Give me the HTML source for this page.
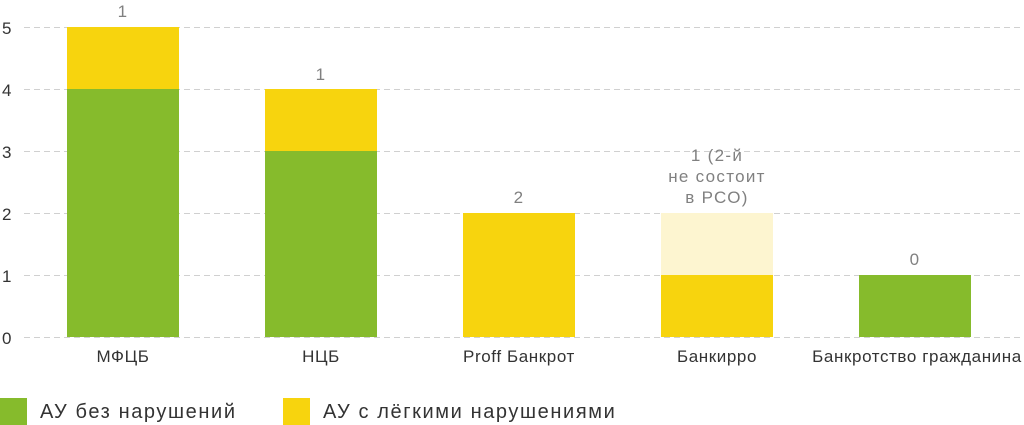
<!DOCTYPE html><html><head><meta charset="utf-8"><style>body{margin:0;background:#fff}svg{display:block}text{font-family:"Liberation Sans",sans-serif}</style></head><body>
<svg width="1024" height="425" viewBox="0 0 1024 425">
<g stroke="#d0d0d0" stroke-width="1" stroke-dasharray="6,4">
<line x1="24" y1="27.5" x2="1024" y2="27.5"/><line x1="24" y1="89.5" x2="1024" y2="89.5"/><line x1="24" y1="151.5" x2="1024" y2="151.5"/><line x1="24" y1="213.5" x2="1024" y2="213.5"/><line x1="24" y1="275.5" x2="1024" y2="275.5"/><line x1="24" y1="337.5" x2="1024" y2="337.5"/>
</g>
<g font-size="17" fill="#333">
<text x="2" y="34">5</text><text x="2" y="96">4</text><text x="2" y="158">3</text><text x="2" y="220">2</text><text x="2" y="282">1</text><text x="2" y="344">0</text>
</g>
<rect x="67" y="27" width="112" height="62" fill="#f7d40e"/><rect x="67" y="89" width="112" height="248" fill="#86bb2c"/>
<rect x="265" y="89" width="112" height="62" fill="#f7d40e"/><rect x="265" y="151" width="112" height="186" fill="#86bb2c"/>
<rect x="463" y="213" width="112" height="124" fill="#f7d40e"/>
<rect x="661" y="213" width="112" height="62" fill="#fdf5d0"/><rect x="661" y="275" width="112" height="62" fill="#f7d40e"/>
<rect x="859" y="275" width="112" height="62" fill="#86bb2c"/>
<g font-size="17" fill="#808080" text-anchor="middle" letter-spacing="1.3">
<text x="123" y="17">1</text><text x="321" y="80">1</text><text x="519" y="203">2</text>
<text x="717" y="161">1 (2-й</text><text x="717" y="182">не состоит</text><text x="717" y="203">в РСО)</text>
<text x="915" y="265">0</text>
</g>
<g font-size="17" fill="#333" text-anchor="middle" letter-spacing="0.6">
<text x="123" y="362">МФЦБ</text><text x="321" y="362">НЦБ</text><text x="519" y="362">Proff Банкрот</text><text x="717" y="362">Банкирро</text><text x="917" y="362">Банкротство гражданина</text>
</g>
<rect x="0" y="398" width="27" height="27" fill="#86bb2c"/><text x="40" y="418" font-size="20" fill="#333" letter-spacing="1.6">АУ без нарушений</text>
<rect x="283" y="398" width="27" height="27" fill="#f7d40e"/><text x="323" y="418" font-size="20" fill="#333" letter-spacing="1.6">АУ с лёгкими нарушениями</text>
</svg></body></html>
